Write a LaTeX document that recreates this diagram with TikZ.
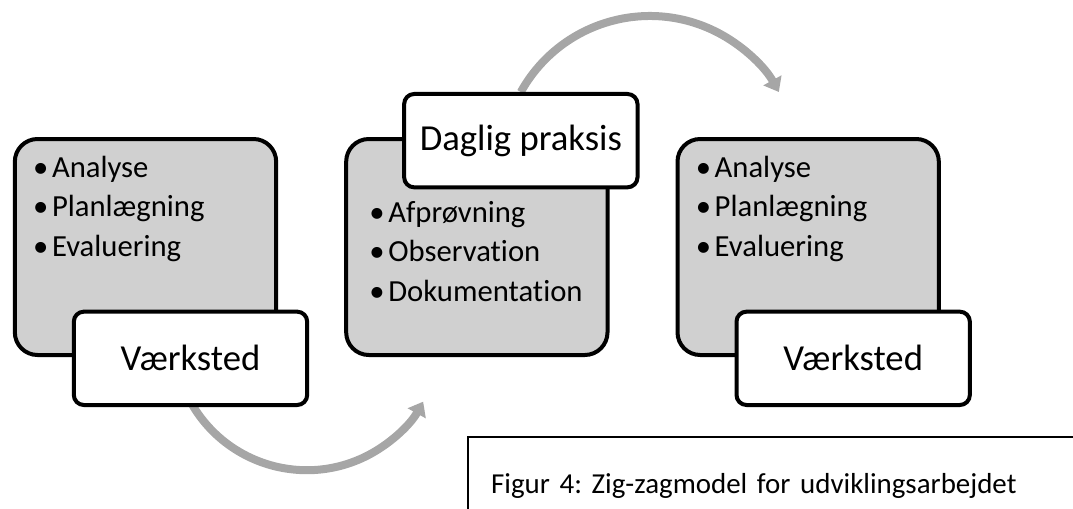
\documentclass[tikz,border=0pt]{standalone}
\usepackage{fontspec}
\setmainfont[Ligatures={NoCommon}]{Carlito}
\usetikzlibrary{arrows.meta, positioning, backgrounds}
\usepackage{xcolor}
\definecolor{panelgray}{HTML}{D0D0D0}
\definecolor{flowgray}{HTML}{A6A6A6}
\newcommand{\bul}{\textbullet\hspace{0.12em}}

\begin{document}
\begin{tikzpicture}[
x=0.75pt, y=0.75pt,
node distance=49.5pt,
panel/.style={draw, line width=3pt, rounded corners=17pt,
fill=panelgray, minimum width=196pt, minimum height=162pt},
tag/.style={draw, line width=3pt, rounded corners=7.5pt, fill=white,
minimum width=175pt, minimum height=70pt,
font=\fontsize{27.5}{32}\selectfont},
listtext/.style={anchor=north west, inner sep=0pt, align=left,
font=\fontsize{23}{29.5}\selectfont},
flow/.style={-{Triangle[width=15pt, length=10pt]}, line width=6pt, flowgray},
capbox/.style={draw, line width=1.2pt, anchor=north west,
minimum width=465pt, minimum height=73.5pt, inner xsep=15.75pt,
text width=430pt, align=left, font=\fontsize{21.7}{26}\selectfont\frenchspacing}
]
\useasboundingbox (0,0) rectangle (1073,508);

\node[panel] (gray1) at (145.5,261) {};
\node[panel, right=of gray1] (gray2) {};
\node[panel, right=of gray2] (gray3) {};

\node[listtext] (list1) at ([shift={(20,-19)}]gray1.north west)
{\bul Analyse\\ \bul Planlægning\\ \bul Evaluering};
\node[listtext] (list2) at ([shift={(25,-64)}]gray2.north west)
{\bul Afprøvning\\ \bul Observation\\ \bul Dokumentation};
\node[listtext] (list3) at ([shift={(20,-19)}]gray3.north west)
{\bul Analyse\\ \bul Planlægning\\ \bul Evaluering};

\node[tag, anchor=south west] (wk1) at ([shift={(59,-50)}]gray1.south west) {Værksted};
\node[tag, anchor=north west] (dp) at ([shift={(58,45)}]gray2.north west) {Daglig praksis};
\node[tag, anchor=south west] (wk3) at ([shift={(59,-50)}]gray3.south west) {Værksted};

\begin{scope}[on background layer]
\draw[flow] ([yshift=4]wk1.south) arc[start angle=209, end angle=331, radius=133];
\draw[flow] (dp.north) arc[start angle=151, end angle=29, radius=147.5];
\end{scope}

\node[capbox] (cap) at (467,72) {Figur 4: Zig-zagmodel for udviklingsarbejdet};

\end{tikzpicture}
\end{document}
